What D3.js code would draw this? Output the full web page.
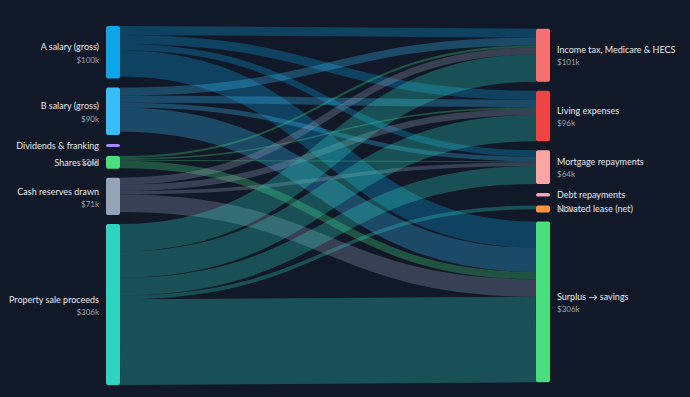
<!DOCTYPE html>
<html><head><meta charset="utf-8">
<script src="https://cdn.jsdelivr.net/npm/d3@7"></script>
<style>html,body{margin:0;padding:0;background:#111827;}svg{display:block}</style>
</head><body><svg id="chart" width="690" height="397"></svg>
<script>
// ---- data ----
const sourceNames = ["A salary (gross)", "B salary (gross)", "Dividends & franking", "Shares sold", "Cash reserves drawn", "Property sale proceeds"];
const sourceValues = [100, 90, 6, 24, 71, 306];
const sourceColors = ["#0ea5e9", "#38bdf8", "#a78bfa", "#4ade80", "#94a3b8", "#2dd4bf"];
const targetNames = ["Income tax, Medicare & HECS", "Living expenses", "Mortgage repayments", "Debt repayments", "Novated lease (net)", "Surplus \u2192 savings"];
const targetValues = [101, 96, 64, 7, 13, 306];
const targetColors = ["#f87171", "#ef4444", "#fca5a5", "#fda4af", "#fb923c", "#4ade80"];
// rows = sources, columns = targets (k$)
const flowA = [17, 17, 12, 0, 0, 50];
const flowB = [15, 14, 9, 0, 0, 46];
const flowDiv = [0, 0, 0, 0, 0, 0];
const flowShares = [4, 3, 2, 0, 0, 14];
const flowCash = [13, 12, 7, 0, 0, 33];
const flowProperty = [52, 50, 34, 0, 7, 163];
const flows = [flowA, flowB, flowDiv, flowShares, flowCash, flowProperty];

// ---- layout ----
const W = 690, H = 397;
const yTop = 26, yBottom = 385, pad = 9, nodeW = 14;
const svg = d3.select("#chart");
svg.append("rect").attr("width", W).attr("height", H).attr("fill", "#111827");

const x = d3.scalePoint().domain(["src", "tgt"]).range([106, 536]);
const maxTotal = Math.max(d3.sum(sourceValues), d3.sum(targetValues));
const maxN = Math.max(sourceValues.length, targetValues.length);
const ky = d3.scaleLinear().domain([0, maxTotal]).range([0, (yBottom - yTop) - (maxN - 1) * pad]);

function column(names, values, colors, side) {
  const total = ky(d3.sum(values)) + (values.length - 1) * pad;
  let y = yTop + ((yBottom - yTop) - total) / 2;
  return names.map((n, i) => {
    const h = ky(values[i]);
    const node = {name: n, value: values[i], color: colors[i], side, x0: x(side), x1: x(side) + nodeW, y0: y, y1: y + h, off: y};
    y += h + pad;
    return node;
  });
}
const srcNodes = column(sourceNames, sourceValues, sourceColors, "src");
const tgtNodes = column(targetNames, targetValues, targetColors, "tgt");

const links = [];
flows.forEach((row, i) => row.forEach((v, j) => {
  if (v > 0) links.push({source: srcNodes[i], target: tgtNodes[j], value: v, si: i, tj: j});
}));
srcNodes.forEach(n => {
  links.filter(l => l.source === n).sort((a, b) => a.tj - b.tj).forEach(l => {
    const w = ky(l.value); l.width = w; l.ys = n.off + w / 2; n.off += w;
  });
});
tgtNodes.forEach(n => {
  links.filter(l => l.target === n).sort((a, b) => a.si - b.si).forEach(l => {
    const w = ky(l.value); l.yt = n.off + w / 2; n.off += w;
  });
});

const linkPath = d3.linkHorizontal()
  .source(d => [d.source.x1, d.ys])
  .target(d => [d.target.x0, d.yt]);

svg.append("g").attr("fill", "none")
  .selectAll("path").data(links).join("path")
  .attr("d", linkPath)
  .attr("stroke", d => d.source.color)
  .attr("stroke-opacity", 0.3)
  .attr("stroke-width", d => Math.max(1, d.width));

const allNodes = srcNodes.concat(tgtNodes);
svg.append("g").selectAll("rect").data(allNodes).join("rect")
  .attr("x", d => d.x0).attr("y", d => d.y0)
  .attr("width", nodeW).attr("height", d => Math.max(1, d.y1 - d.y0))
  .attr("rx", 2).attr("fill", d => d.color);

const font = "Lato, 'Segoe UI', sans-serif";
const lab = svg.append("g").attr("font-family", font);
allNodes.forEach(n => {
  const h = n.y1 - n.y0, cy = (n.y0 + n.y1) / 2;
  const split = h >= 20;
  const left = n.side === "src";
  const tx = left ? n.x0 - 7 : n.x1 + 7;
  const anchor = left ? "end" : "start";
  lab.append("text").attr("x", tx).attr("y", split ? cy - 5 : cy)
    .attr("dy", "0.35em").attr("text-anchor", anchor)
    .attr("font-size", 9).attr("fill", "#e5e7eb").text(n.name);
  if (h >= 6) {
    lab.append("text").attr("x", tx).attr("y", split ? cy + 7.5 : cy)
      .attr("dy", "0.35em").attr("text-anchor", anchor)
      .attr("font-size", 8).attr("fill", "#9ca3af").text("$" + n.value + "k");
  }
});
</script></body></html>
